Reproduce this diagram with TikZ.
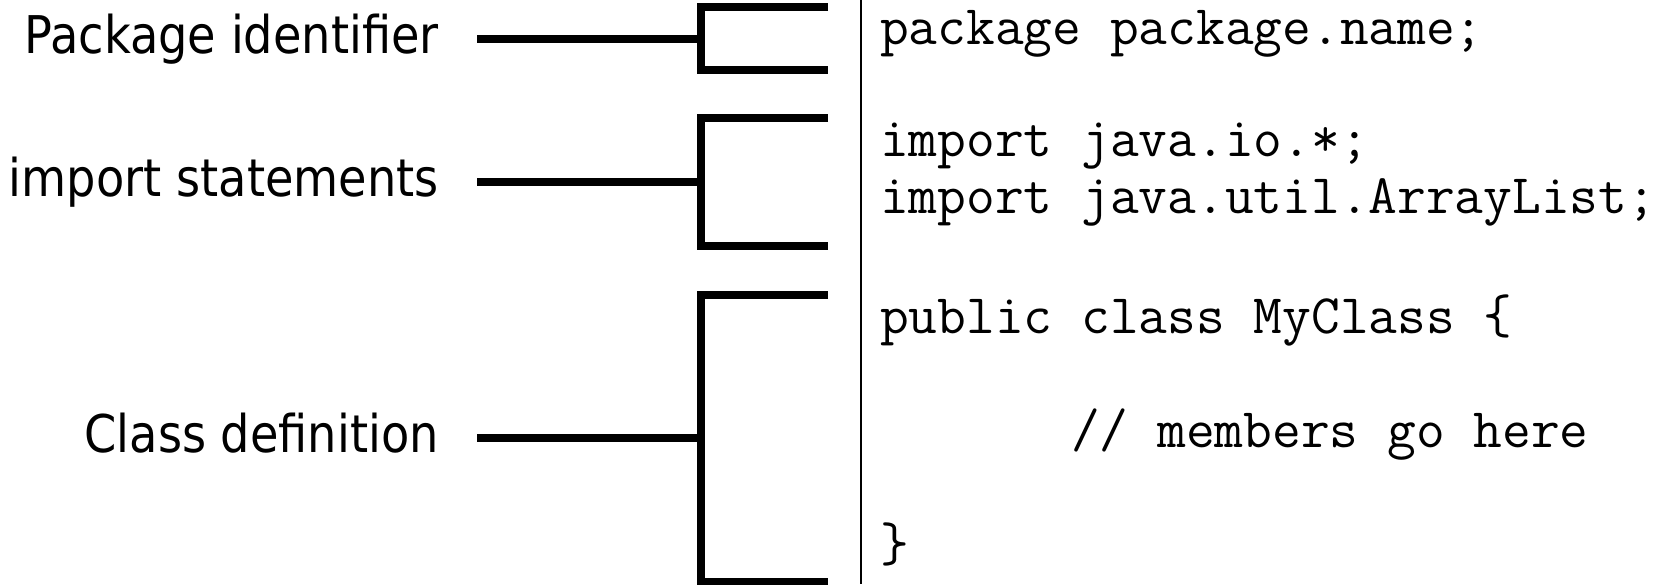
\documentclass[tikz,border=0pt]{standalone}
\usepackage{fontspec}
\newfontfamily\labelfont{DejaVu Sans}
\begin{document}
\begin{tikzpicture}[x=1pt,y=-1pt,
  lbl/.style={anchor=base east, inner sep=0pt, font=\labelfont\fontsize{52}{60}\selectfont},
  code/.style={anchor=base west, inner sep=0pt, font=\ttfamily\fontsize{55.8}{60}\selectfont},
  brk/.style={line width=8pt, line join=miter, line cap=butt},
  sepline/.style={line width=1.5pt}]
\useasboundingbox (0,0) rectangle (1656,584);

% labels
\node[lbl] (l1) at (439,53) {\scalebox{0.89}[1]{Package identifier}};
\node[lbl] (l2) at (439,196) {\scalebox{0.89}[1]{import statements}};
\node[lbl] (l3) at (439,452) {\scalebox{0.89}[1]{Class definition}};

% bracket coordinates
\coordinate (s1) at (477,38.5);  \coordinate (v1) at (701,38.5);
\coordinate (t1) at (828,6.5);   \coordinate (b1) at (828,70);
\coordinate (s2) at (477,182);   \coordinate (v2) at (701,182);
\coordinate (t2) at (828,118);   \coordinate (b2) at (828,246);
\coordinate (s3) at (477,438);   \coordinate (v3) at (701,438);
\coordinate (t3) at (828,294.5); \coordinate (b3) at (828,582);

\draw[brk] (s1) -- (v1);
\draw[brk] (t1) -- (t1 -| v1) -- (b1 -| v1) -- (b1);
\draw[brk] (s2) -- (v2);
\draw[brk] (t2) -- (t2 -| v2) -- (b2 -| v2) -- (b2);
\draw[brk] (s3) -- (v3);
\draw[brk] (t3) -- (t3 -| v3) -- (b3 -| v3) -- (b3);

% separator
\coordinate (st) at (861,0);
\coordinate (sb) at (861,584);
\draw[sepline] (st) -- (sb);

% code
\node[code] (c1) at (880,44)  {package package.name;};
\node[code] (c2) at (880,156) {import java.io.*;};
\node[code] (c3) at (880,213) {import java.util.ArrayList;};
\node[code] (c4) at (880,333) {public class MyClass \{};
\node[code] (c5) at (1071,447) {// members go here};
\node[code] (c6) at (880,561) {\}};
\end{tikzpicture}
\end{document}
